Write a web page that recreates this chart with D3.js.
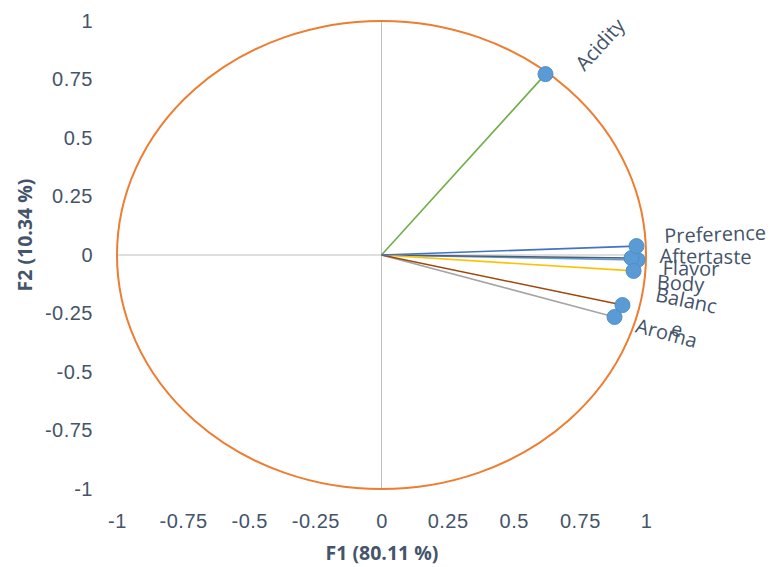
<!DOCTYPE html>
<meta charset="utf-8">
<style>
body { margin: 0; background: #fff; }
svg { font-family: "Open Sans", sans-serif; }
.tick text { fill: #44546A; font-size: 20px; letter-spacing: 0.5px; }
.title { fill: #44546A; font-size: 19.5px; font-weight: bold; }
.lab { fill: #44546A; font-size: 20px; }
</style>
<svg width="771" height="567"></svg>
<script src="https://d3js.org/d3.v7.min.js"></script>
<script>

// correlation circle: variables vs factors F1 / F2
var variables = ["Aroma", "Flavor", "Aftertaste", "Acidity", "Body", "Balance", "Preference"];
var f1 = [0.881, 0.968, 0.945, 0.620, 0.953, 0.911, 0.964];
var f2 = [-0.265, -0.021, -0.013, 0.773, -0.068, -0.214, 0.038];
var ticks = [-1, -0.75, -0.5, -0.25, 0, 0.25, 0.5, 0.75, 1];

var colors = {
  Aroma: "#A5A5A5", Flavor: "#5B9BD5", Aftertaste: "#4F5E70", Acidity: "#70AD47",
  Body: "#FFC000", Balance: "#9E480E", Preference: "#4472C4"
};
// label nudges (screen px from marker to text start)
var labelOffset = {
  Aroma: [20, 15], Flavor: [25, 15], Aftertaste: [28, 5], Acidity: [39, -2],
  Body: [23, 18], Balance: [32, -4], Preference: [28, -3]
};

var svg = d3.select("svg");

var x = d3.scaleLinear().domain([-1, 1]).range([117, 646]);
var y = d3.scaleLinear().domain([-1, 1]).range([489, 21]);

var fmt = function(d) { return String(d); };

// axes through origin
svg.append("line")
    .attr("x1", x(-1)).attr("x2", x(1))
    .attr("y1", y(0)).attr("y2", y(0))
    .attr("stroke", "#BFBFBF").attr("stroke-width", 1);
svg.append("line")
    .attr("x1", x(0)).attr("x2", x(0))
    .attr("y1", y(1)).attr("y2", y(-1))
    .attr("stroke", "#BFBFBF").attr("stroke-width", 1);

// unit circle
svg.append("ellipse")
    .attr("cx", x(0)).attr("cy", y(0))
    .attr("rx", x(1) - x(0)).attr("ry", y(-1) - y(0))
    .attr("fill", "none")
    .attr("stroke", "#ED7D31")
    .attr("stroke-width", 2);

var gx = svg.append("g")
    .attr("transform", "translate(0,508)")
    .call(d3.axisBottom(x).tickValues(ticks).tickFormat(fmt).tickSize(0).tickPadding(6));
gx.select(".domain").remove();

var gy = svg.append("g")
    .attr("transform", "translate(93,0)")
    .call(d3.axisLeft(y).tickValues(ticks).tickFormat(fmt).tickSize(0).tickPadding(0));
gy.select(".domain").remove();
svg.selectAll(".tick text").attr("font-family", null).attr("font-size", null);

svg.append("text")
    .attr("class", "title")
    .attr("x", 382).attr("y", 560)
    .attr("text-anchor", "middle")
    .text("F1 (80.11 %)");

svg.append("text")
    .attr("class", "title")
    .attr("transform", "translate(32,235) rotate(-90)")
    .attr("text-anchor", "middle")
    .text("F2 (10.34 %)");

var data = variables.map(function(v, i) { return { name: v, a: f1[i], b: f2[i] }; });

svg.append("g").selectAll("line")
    .data(data)
    .enter().append("line")
    .attr("x1", x(0)).attr("y1", y(0))
    .attr("x2", function(d) { return x(d.a); })
    .attr("y2", function(d) { return y(d.b); })
    .attr("stroke", function(d) { return colors[d.name]; })
    .attr("stroke-width", 1.6);

svg.append("g").selectAll("circle")
    .data(data)
    .enter().append("circle")
    .attr("cx", function(d) { return x(d.a); })
    .attr("cy", function(d) { return y(d.b); })
    .attr("r", 7.5)
    .attr("fill", "#5B9BD5")
    .attr("stroke", "#4E8FCB")
    .attr("stroke-width", 1);

var label = svg.append("g").selectAll("text")
    .data(data)
    .enter().append("text")
    .attr("class", "lab")
    .attr("transform", function(d) {
      var px = x(d.a), py = y(d.b);
      var ang = Math.atan2(py - y(0), px - x(0)) * 180 / Math.PI;
      var o = labelOffset[d.name];
      return "translate(" + (px + o[0]) + "," + (py + o[1]) + ") rotate(" + ang + ")";
    });

label.each(function(d) {
  var t = d3.select(this);
  if (d.name === "Balance") {
    // wrapped like the original
    t.append("tspan").attr("x", 0).attr("y", 0).text("Balanc");
    t.append("tspan").attr("x", 22).attr("y", 30).text("e");
  } else {
    t.text(d.name);
  }
});

</script>
